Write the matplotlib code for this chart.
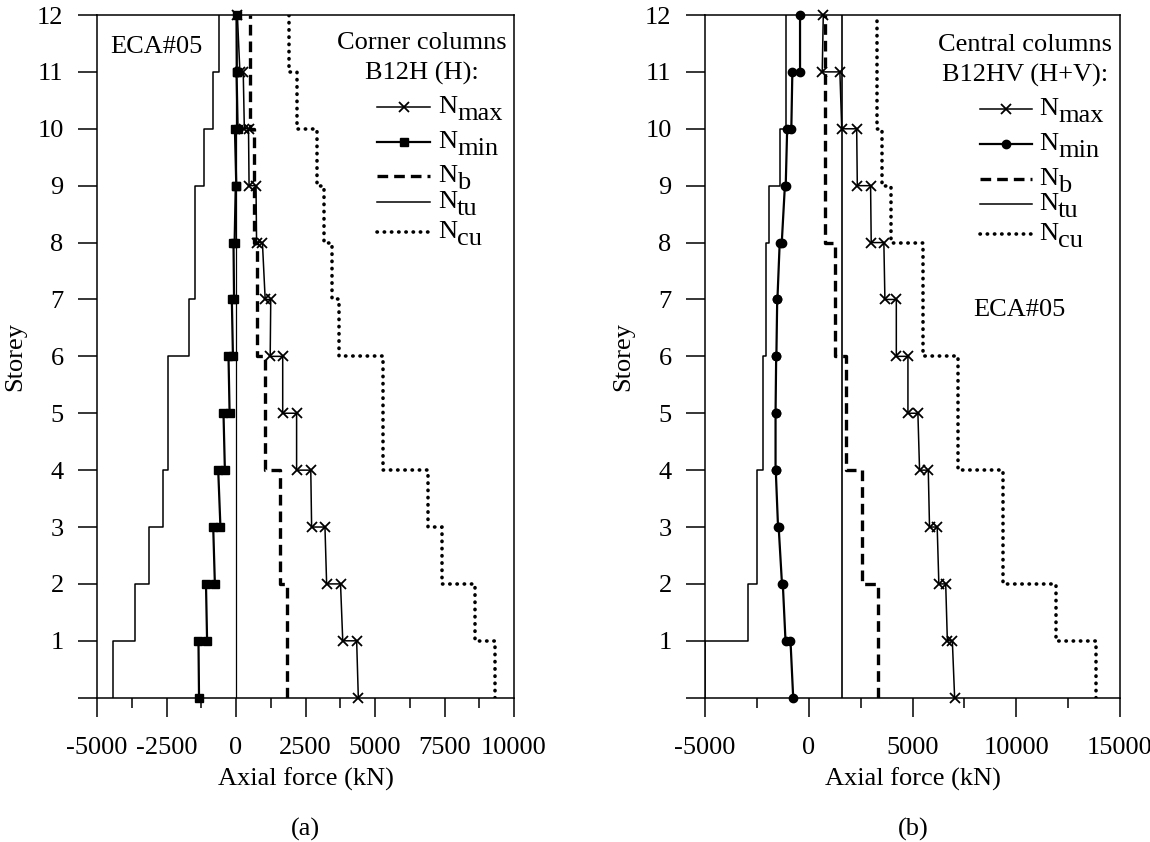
import numpy as np
import matplotlib
matplotlib.use("Agg")
import matplotlib.pyplot as plt
from matplotlib.lines import Line2D

plt.rcParams['font.family'] = ['Liberation Serif', 'DejaVu Serif']
plt.rcParams['font.size'] = 19

# storeys 1..12 (storey i spans level i-1 to level i)
storeys = np.arange(1, 13)

# (a) corner columns, B12H (H)
a_nmax_top = [4340, 3760, 3200, 2690, 2180, 1680, 1250, 950, 720, 450, 260, 50]
a_nmax_bot = [4400, 3840, 3260, 2720, 2180, 1680, 1230, 1050, 740, 470, 300, 140]
a_nmin_top = [-1350, -1080, -820, -640, -450, -270, -150, -90, -10, -40, 20, 20]
a_nmin_bot = [-1330, -1040, -760, -560, -400, -230, -110, -70, -50, 10, 60, 30]
a_ntu = [-4410, -3630, -3130, -2640, -2430, -2430, -1690, -1470, -1470, -1150, -810, -610]
a_nb = [1850, 1850, 1580, 1580, 1040, 1040, 745, 745, 630, 630, 500, 500]
a_ncu = [9320, 8600, 7400, 6920, 5280, 5280, 3710, 3440, 3180, 2900, 2180, 1920]
a_vline = 0

# (b) central columns, B12HV (H+V)
b_nmax_top = [6920, 6600, 6190, 5760, 5260, 4780, 4220, 3620, 2980, 2310, 1500, 700]
b_nmax_bot = [7030, 6680, 6270, 5820, 5340, 4780, 4220, 3670, 3010, 2340, 1590, 650]
b_nmin_top = [-880, -1250, -1450, -1590, -1600, -1570, -1520, -1400, -1150, -1040, -790, -420]
b_nmin_bot = [-750, -1120, -1290, -1480, -1600, -1600, -1560, -1510, -1300, -1110, -840, -420]
b_ntu = [-4980, -2950, -2480, -2480, -2210, -2210, -2050, -2050, -1920, -1390, -1110, -1110]
b_nb = [3330, 3330, 2550, 2550, 1780, 1780, 1250, 1250, 780, 780, 780, 780]
b_ncu = [13850, 11900, 9360, 9360, 7200, 7200, 5520, 5520, 3950, 3510, 3300, 3300]
b_vline = 1600

leg_labels = [('N', 'max'), ('N', 'min'), ('N', 'b'), ('N', 'tu'), ('N', 'cu')]

W, H = 1150, 842
fig = plt.figure(figsize=(W / 100, H / 100), dpi=100)

def levels():
    # y coords for a per-storey polyline: 0,1,1,2,2,...,11,12
    return np.repeat(np.arange(0, 13), 2)[1:-1]

def step_x(vals):
    return np.repeat(np.asarray(vals, float), 2)

def chain_x(bot, top):
    out = []
    for b, t in zip(bot, top):
        out += [b, t]
    return np.array(out, float)

styles = dict(
    nmax=dict(color='k', lw=1.1, marker='x', ms=6.5, mew=1.3),
    nb=dict(color='k', lw=2.4, linestyle=(0, (3.2, 1.8))),
    ntu=dict(color='k', lw=1.1),
    ncu=dict(color='k', lw=2.6, linestyle=(0, (0.1, 1.9)), dash_capstyle='round'),
)

def panel(rect, xlim, major, minor, xticks, d, nmin_marker, title, eca_px, px):
    left, top, width = rect
    bottom = 697.7
    ax = fig.add_axes([left / W, 1 - bottom / H, width / W, (bottom - top) / H])
    y = levels()
    ax.axvline(d['vline'], color='k', lw=0.9 if d['vline'] == 0 else 1.2)
    ax.plot(step_x(d['ntu']), y, **styles['ntu'])
    ax.plot(step_x(d['nb']), y, **styles['nb'])
    ax.plot(step_x(d['ncu']), y, **styles['ncu'])
    ax.plot(chain_x(d['nmin_bot'], d['nmin_top']), y, color='k', lw=1.6,
            marker=nmin_marker, ms=6, clip_on=False)
    ax.plot(chain_x(d['nmax_bot'], d['nmax_top']), y, clip_on=False, **styles['nmax'])

    ax.set_xlim(*xlim)
    ax.set_ylim(0, 12)
    ax.set_xticks(xticks)
    ax.set_xticklabels([str(v) for v in xticks])
    ax.set_xticks(np.arange(xlim[0], xlim[1] + 1, minor), minor=True)
    ax.set_yticks(np.arange(0, 13))
    ax.set_yticklabels([''] + [str(v) for v in range(1, 13)])
    ax.tick_params(which='major', direction='out', length=14, width=1.1, pad=10)
    ax.tick_params(which='major', axis='x', pad=14)
    ax.tick_params(which='minor', axis='x', direction='out', length=7.5, width=1.1)
    for s in ax.spines.values():
        s.set_linewidth(1.1)
    ax.set_xlabel('Axial force (kN)', labelpad=6.5)
    ax.set_ylabel('Storey')
    ax.yaxis.set_label_coords(-0.17, 0.5)

    fx = lambda x: (x - left) / width
    fy = lambda yy: (bottom - yy) / (bottom - top)
    ax.text(fx(px['tx']), fy(px['t1']), title[0], ha='center', va='center', transform=ax.transAxes)
    ax.text(fx(px['tx']), fy(px['t2']), title[1], ha='center', va='center', transform=ax.transAxes)
    ax.text(fx(eca_px[0]), fy(eca_px[1]), 'ECA#05', ha='center', va='center', transform=ax.transAxes)

    handles = [
        dict(styles['nmax']),
        dict(color='k', lw=1.6, marker=nmin_marker, ms=6),
        dict(styles['nb']),
        dict(styles['ntu']),
        dict(styles['ncu']),
    ]
    for (base, sub), st, yb in zip(leg_labels, handles, px['rows']):
        hy = fy(yb - 6)
        mk = st.pop('marker', None)
        ms = st.pop('ms', None)
        mew = st.pop('mew', None)
        ax.add_line(Line2D([fx(px['h0']), fx(px['h1'])], [hy, hy], transform=ax.transAxes,
                           clip_on=False, **st))
        if mk:
            ax.add_line(Line2D([fx((px['h0'] + px['h1']) / 2)], [hy], transform=ax.transAxes,
                               color='k', marker=mk, ms=ms, mew=mew or 1, clip_on=False))
        ax.text(fx(px['nx']), fy(yb), base, ha='left', va='baseline', transform=ax.transAxes)
        ax.annotate(sub, xy=(fx(px['nx']), fy(yb)), xycoords='axes fraction',
                    xytext=(13.7, -5), textcoords='offset points', ha='left', va='baseline')
    return ax

data_a = dict(nmax_top=a_nmax_top, nmax_bot=a_nmax_bot, nmin_top=a_nmin_top, nmin_bot=a_nmin_bot,
              ntu=a_ntu, nb=a_nb, ncu=a_ncu, vline=a_vline)
data_b = dict(nmax_top=b_nmax_top, nmax_bot=b_nmax_bot, nmin_top=b_nmin_top, nmin_bot=b_nmin_bot,
              ntu=b_ntu, nb=b_nb, ncu=b_ncu, vline=b_vline)

panel((97, 15, 417), (-5000, 10000), 2500, 1250,
      [-5000, -2500, 0, 2500, 5000, 7500, 10000], data_a, 's',
      ('Corner columns', 'B12H (H):'), (156, 47),
      dict(tx=422, t1=43, t2=73, h0=377, h1=430, nx=438, rows=[113, 148, 182, 208, 238]))
panel((705, 15, 415), (-5000, 15000), 5000, 2500,
      [-5000, 0, 5000, 10000, 15000], data_b, 'o',
      ('Central columns', 'B12HV (H+V):'), (1019, 310),
      dict(tx=1025, t1=45, t2=75, h0=980, h1=1032, nx=1039, rows=[115, 150, 185, 210, 240]))

fig.text(305 / W, 1 - 829 / H, '(a)', ha='center', va='center')
fig.text(913 / W, 1 - 829 / H, '(b)', ha='center', va='center')

fig.savefig('out.png', dpi=100)
